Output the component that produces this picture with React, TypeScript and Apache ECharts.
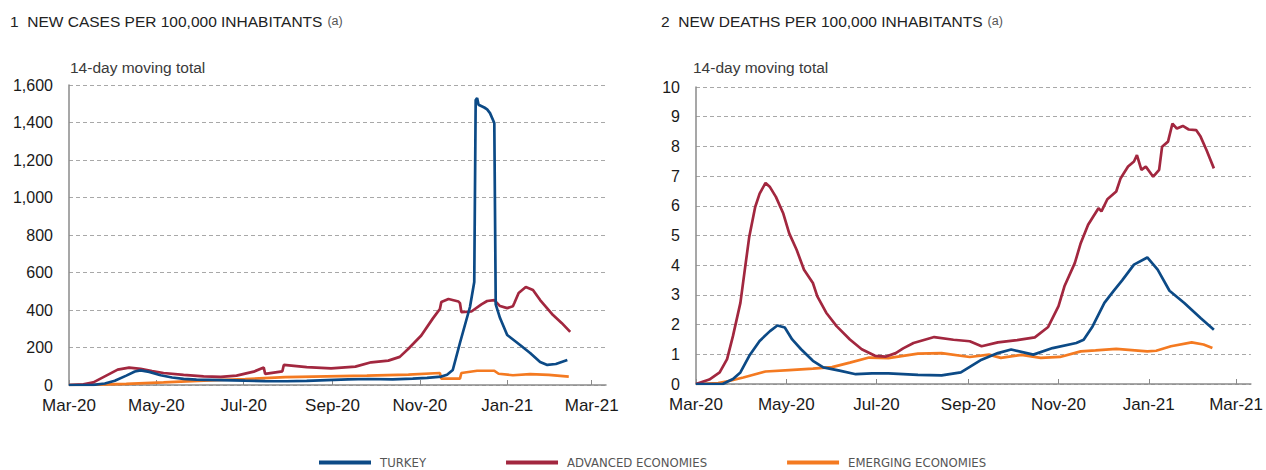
import React, { useEffect, useRef } from "react";
import * as echarts from "echarts";

// x values are days since 1 March 2020
const tickDays = [0, 61, 122, 184, 245, 306, 365];
const tickLabels = ["Mar-20", "May-20", "Jul-20", "Sep-20", "Nov-20", "Jan-21", "Mar-21"];

const seriesNames = ["TURKEY", "ADVANCED ECONOMIES", "EMERGING ECONOMIES"];

// Chart 1: new cases per 100,000 (14-day moving total)
const casesTurkeyDays = [0, 10, 17, 25, 32, 40, 46, 50, 56, 64, 72, 80, 89, 106, 123, 137, 152, 166, 180, 195, 209, 226, 240, 250, 260, 264, 268, 273, 280, 283, 284, 285, 286, 290, 292, 294, 297, 298, 301, 306, 315, 322, 329, 334, 340, 348];
const casesTurkey = [0, 0, 1, 8, 23, 50, 72, 78, 70, 52, 40, 33, 29, 26, 23, 21, 20, 22, 26, 30, 32, 30, 34, 38, 45, 55, 80, 224, 416, 549, 1520, 1530, 1495, 1480, 1470, 1450, 1397, 430, 357, 267, 213, 171, 123, 107, 112, 133];

const casesAdvancedDays = [0, 10, 17, 26, 34, 42, 50, 58, 66, 80, 94, 106, 117, 129, 136, 137, 149, 150, 166, 183, 200, 211, 223, 231, 237, 246, 254, 259, 260, 265, 272, 273, 274, 281, 288, 292, 297, 301, 306, 310, 311, 314, 319, 324, 329, 338, 344, 350];
const casesAdvanced = [0, 3, 14, 50, 82, 93, 86, 74, 64, 54, 46, 43, 50, 71, 93, 59, 73, 107, 95, 89, 98, 121, 130, 150, 193, 264, 354, 405, 443, 459, 445, 437, 389, 392, 430, 448, 453, 421, 410, 420, 437, 491, 523, 507, 453, 373, 331, 283];

const casesEmergingDays = [0, 20, 40, 66, 90, 123, 151, 180, 208, 237, 259, 260, 273, 274, 285, 297, 300, 310, 322, 335, 349];
const casesEmerging = [0, 2, 6, 14, 22, 32, 42, 46, 50, 55, 64, 34, 34, 64, 76, 76, 60, 52, 58, 54, 45];

// Chart 2: new deaths per 100,000 (14-day moving total)
const deathsTurkeyDays = [0, 18, 25, 30, 36, 43, 50, 55, 60, 65, 71, 79, 86, 97, 108, 119, 130, 150, 166, 179, 193, 204, 213, 228, 241, 257, 262, 268, 276, 282, 288, 296, 305, 312, 320, 330, 341, 350];
const deathsTurkey = [0, 0, 0.17, 0.39, 0.95, 1.45, 1.78, 1.97, 1.9, 1.5, 1.17, 0.78, 0.56, 0.45, 0.33, 0.36, 0.36, 0.31, 0.29, 0.39, 0.82, 1.04, 1.16, 0.99, 1.21, 1.38, 1.49, 1.94, 2.73, 3.12, 3.49, 4.02, 4.26, 3.85, 3.14, 2.73, 2.22, 1.83];

const deathsAdvancedDays = [0, 9, 16, 21, 25, 30, 33, 36, 40, 43, 47, 50, 54, 59, 63, 68, 73, 79, 82, 88, 95, 104, 112, 121, 128, 135, 140, 147, 161, 174, 185, 193, 204, 217, 229, 238, 245, 249, 256, 260, 265, 272, 274, 278, 284, 287, 292, 296, 298, 301, 304, 309, 313, 315, 319, 322, 325, 329, 333, 338, 341, 345, 350];
const deathsAdvanced = [0, 0.15, 0.39, 0.84, 1.62, 2.73, 3.85, 4.96, 5.96, 6.41, 6.77, 6.63, 6.3, 5.74, 5.07, 4.52, 3.85, 3.4, 2.95, 2.4, 1.95, 1.5, 1.17, 0.95, 0.92, 1.04, 1.2, 1.38, 1.58, 1.49, 1.44, 1.27, 1.4, 1.48, 1.57, 1.92, 2.62, 3.29, 4.07, 4.74, 5.36, 5.92, 5.81, 6.22, 6.48, 6.93, 7.32, 7.49, 7.71, 7.21, 7.32, 6.98, 7.21, 7.99, 8.16, 8.77, 8.6, 8.69, 8.57, 8.55, 8.33, 7.88, 7.26];

const deathsEmergingDays = [0, 15, 23, 32, 47, 63, 79, 92, 104, 117, 130, 150, 166, 185, 198, 206, 220, 233, 246, 260, 270, 284, 305, 311, 321, 335, 343, 349];
const deathsEmerging = [0, 0.03, 0.11, 0.22, 0.42, 0.47, 0.52, 0.57, 0.72, 0.89, 0.87, 1.02, 1.04, 0.91, 0.99, 0.88, 0.98, 0.88, 0.91, 1.1, 1.13, 1.18, 1.1, 1.12, 1.27, 1.4, 1.33, 1.21];

const colors = ["#0c4a86", "#a2273f", "#f47a21"];

const pairs = (xs: number[], ys: number[]) => xs.map((x, i) => [x, ys[i]]);

const FONT = "'Liberation Sans', Arial, Helvetica, sans-serif";
const NARROW = "'Liberation Sans Narrow', 'DejaVu Sans Condensed', 'Liberation Sans', sans-serif";

function xAxisDef(gridIndex: number) {
  return {
    type: "value",
    gridIndex,
    min: 0,
    max: 375,
    axisLine: { show: true, lineStyle: { color: "#8a8a8a", width: 1.5 } },
    axisTick: {
      show: true,
      inside: true,
      length: 5,
      customValues: tickDays,
      lineStyle: { color: "#8a8a8a", width: 1 },
    },
    axisLabel: {
      customValues: tickDays,
      formatter: (v: number) => tickLabels[tickDays.indexOf(v)] ?? "",
      fontFamily: FONT,
      fontSize: 17,
      color: "#1a1a1a",
      margin: 12,
    },
    splitLine: { show: false },
  };
}

function yAxisDef(gridIndex: number, max: number, interval: number, thousands: boolean) {
  return {
    type: "value",
    gridIndex,
    min: 0,
    max,
    interval,
    axisLine: { show: true, lineStyle: { color: "#8a8a8a", width: 1.5 } },
    axisTick: { show: false },
    axisLabel: {
      fontFamily: FONT,
      fontSize: 16,
      color: "#1a1a1a",
      margin: 16,
      formatter: (v: number) => (thousands ? v.toLocaleString("en-US") : String(v)),
    },
    splitLine: {
      show: true,
      lineStyle: { color: "#a8a8a8", width: 1, type: [4, 3] },
    },
  };
}

function lineSeries(name: string, idx: number, colorIdx: number, data: number[][]) {
  return {
    type: "line",
    name,
    xAxisIndex: idx,
    yAxisIndex: idx,
    data,
    showSymbol: false,
    symbol: "none",
    color: colors[colorIdx],
    lineStyle: { color: colors[colorIdx], width: 2.7 },
    z: 3 - colorIdx,
  };
}

const titleRich = {
  a: { fontFamily: FONT, fontSize: 15.5, fontWeight: "normal", color: "#222" },
  b: { fontFamily: FONT, fontSize: 12.5, fontWeight: "normal", color: "#555" },
};

export default function App() {
  const ref = useRef<HTMLDivElement>(null);

  useEffect(() => {
    if (!ref.current) return;
    const chart = echarts.init(ref.current, null, { renderer: "svg" });
    chart.setOption({
      animation: false,
      backgroundColor: "#ffffff",
      title: [
        {
          left: 10,
          top: 12,
          padding: 0,
          text: "{a|1  NEW CASES PER 100,000 INHABITANTS} {b|(a)}",
          textStyle: { fontWeight: "normal", rich: titleRich },
        },
        {
          left: 661,
          top: 12,
          padding: 0,
          text: "{a|2  NEW DEATHS PER 100,000 INHABITANTS} {b|(a)}",
          textStyle: { fontWeight: "normal", rich: titleRich },
        },
        {
          left: 70,
          top: 59,
          padding: 0,
          text: "14-day moving total",
          textStyle: { fontFamily: FONT, fontSize: 15.5, fontWeight: "normal", color: "#3a3a3a" },
        },
        {
          left: 693,
          top: 59,
          padding: 0,
          text: "14-day moving total",
          textStyle: { fontFamily: FONT, fontSize: 15.5, fontWeight: "normal", color: "#3a3a3a" },
        },
      ],
      legend: {
        left: 319,
        top: 456,
        padding: 0,
        icon: "rect",
        itemWidth: 52,
        itemHeight: 4,
        itemGap: 80,
        data: seriesNames,
        textStyle: {
          fontFamily: NARROW,
          fontSize: 13,
          color: "#555",
          padding: [0, 0, 0, 4],
        },
      },
      grid: [
        { left: 69, top: 85, width: 537, height: 300 },
        { left: 696, top: 87, width: 558, height: 297 },
      ],
      xAxis: [xAxisDef(0), xAxisDef(1)],
      yAxis: [yAxisDef(0, 1600, 200, true), yAxisDef(1, 10, 1, false)],
      series: [
        lineSeries(seriesNames[2], 0, 2, pairs(casesEmergingDays, casesEmerging)),
        lineSeries(seriesNames[1], 0, 1, pairs(casesAdvancedDays, casesAdvanced)),
        lineSeries(seriesNames[0], 0, 0, pairs(casesTurkeyDays, casesTurkey)),
        lineSeries(seriesNames[2], 1, 2, pairs(deathsEmergingDays, deathsEmerging)),
        lineSeries(seriesNames[1], 1, 1, pairs(deathsAdvancedDays, deathsAdvanced)),
        lineSeries(seriesNames[0], 1, 0, pairs(deathsTurkeyDays, deathsTurkey)),
      ],
    });
    return () => chart.dispose();
  }, []);

  return (
    <div
      ref={ref}
      style={{ position: "fixed", left: 0, top: 0, width: 1266, height: 470, background: "#fff" }}
    />
  );
}
